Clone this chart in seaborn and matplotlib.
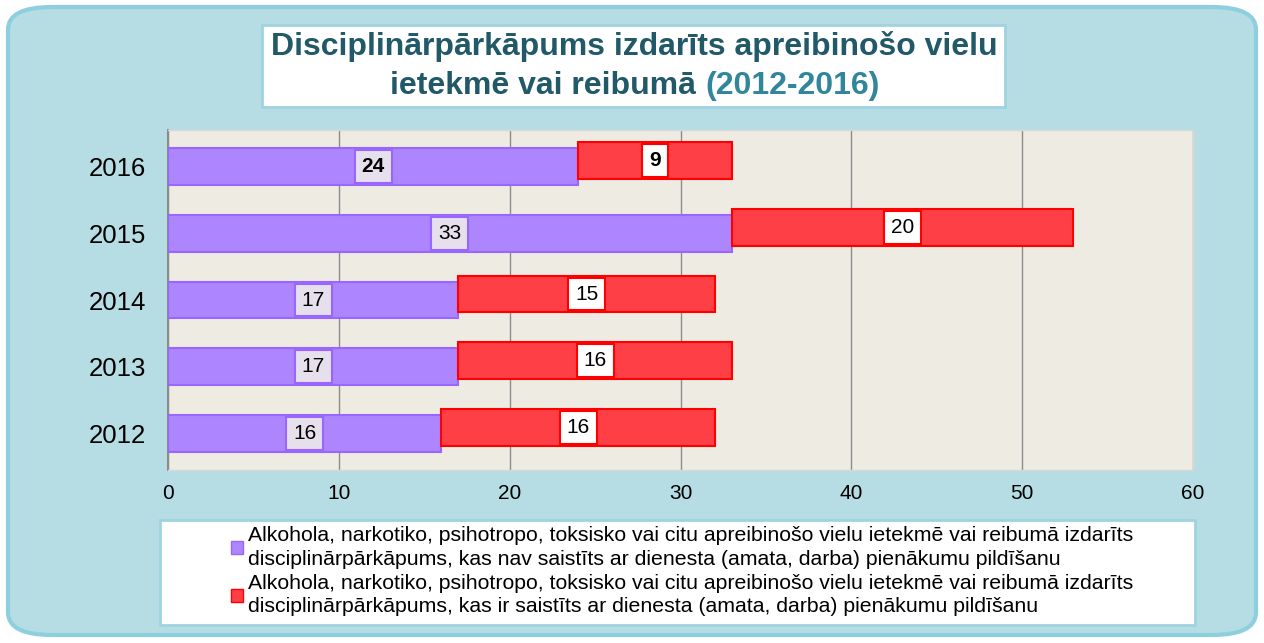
import matplotlib.pyplot as plt
import numpy as np
import pandas as pd
import seaborn as sns
from matplotlib.patches import FancyBboxPatch, Rectangle, Patch

# data
years = ["2016", "2015", "2014", "2013", "2012"]
not_duty = [24, 33, 17, 17, 16]
duty = [9, 20, 15, 16, 16]
bold_years = ["2016"]

label_not_duty = ("Alkohola, narkotiko, psihotropo, toksisko vai citu apreibinošo vielu ietekmē vai reibumā izdarīts\n"
                  "disciplinārpārkāpums, kas nav saistīts ar dienesta (amata, darba) pienākumu pildīšanu")
label_duty = ("Alkohola, narkotiko, psihotropo, toksisko vai citu apreibinošo vielu ietekmē vai reibumā izdarīts\n"
              "disciplinārpārkāpums, kas ir saistīts ar dienesta (amata, darba) pienākumu pildīšanu")

PURPLE = "#ad85ff"
PURPLE_EDGE = "#9966ff"
RED = "#ff3f46"
RED_EDGE = "#ff0000"


def main():
    sns.set_style("white")
    plt.rcParams["font.family"] = ["Liberation Sans", "DejaVu Sans"]
    plt.rcParams["text.color"] = "black"
    plt.rcParams["xtick.color"] = "black"
    plt.rcParams["ytick.color"] = "black"

    df = pd.DataFrame({"year": years, "not_duty": not_duty, "duty": duty})

    fig = plt.figure(figsize=(12.64, 6.43), dpi=100)
    W, H = 1264, 643

    # panel background
    fig.patches.append(FancyBboxPatch((8 / W, 8 / H), 1248 / W, 628 / H,
                                      boxstyle="round,pad=0,rounding_size=0.035",
                                      transform=fig.transFigure, fc="#b5dde3",
                                      ec="#8ecfdf", lw=3, zorder=0))
    # title box
    fig.patches.append(Rectangle((262 / W, 1 - 107 / H), 743 / W, 82 / H,
                                 transform=fig.transFigure, fc="white",
                                 ec="#9fd3e0", lw=2, zorder=1))
    # legend box
    fig.patches.append(Rectangle((160 / W, 1 - 625 / H), 1035 / W, 105 / H,
                                 transform=fig.transFigure, fc="white",
                                 ec="#9fd3e0", lw=2, zorder=1))

    ax = fig.add_axes([168 / W, 1 - 470 / H, 1025 / W, 340 / H])
    ax.set_zorder(5)
    ax.set_facecolor("#eeebe2")

    bar_h = 0.55
    red_shift = 0.09  # the second segment sits a little higher in the original

    sns.barplot(data=df, x="not_duty", y="year", order=years, color=PURPLE,
                saturation=1, width=bar_h, edgecolor=PURPLE_EDGE, linewidth=1.5,
                ax=ax, zorder=3)
    pos = np.arange(len(years))
    ax.barh(pos - red_shift, df["duty"], left=df["not_duty"], height=bar_h,
            color=RED, edgecolor=RED_EDGE, linewidth=1.5, zorder=3)

    for i, row in df.iterrows():
        weight = "bold" if row["year"] in bold_years else "normal"
        ax.text(row["not_duty"] / 2, i, str(row["not_duty"]), ha="center", va="center",
                fontsize=15, fontweight=weight, zorder=5,
                bbox=dict(boxstyle="square,pad=0.33", fc="#e6e0ec", ec=PURPLE_EDGE, lw=1.5))
        ax.text(row["not_duty"] + row["duty"] / 2, i - red_shift, str(row["duty"]),
                ha="center", va="center", fontsize=15, fontweight=weight, zorder=5,
                bbox=dict(boxstyle="square,pad=0.33", fc="white", ec=RED_EDGE, lw=1.5))

    ax.set_xlim(0, 60)
    ax.set_ylim(4.55, -0.55)
    ax.set_xticks(range(0, 61, 10))
    ax.xaxis.grid(True, color="#8c8c8c", lw=1)
    ax.set_axisbelow(True)
    ax.set_xlabel("")
    ax.set_ylabel("")
    ax.tick_params(axis="x", labelsize=15, length=0, pad=10)
    ax.tick_params(axis="y", labelsize=18.5, length=0, pad=16)
    for side in ["top", "right", "bottom"]:
        ax.spines[side].set_color("#d8d8d8")
        ax.spines[side].set_linewidth(1)
    ax.spines["left"].set_color("#8c8c8c")
    ax.spines["left"].set_linewidth(1.5)

    # title, two colours on second line
    title_color = "#215968"
    fig.text(634 / W, 1 - 47 / H, "Disciplinārpārkāpums izdarīts apreibinošo vielu",
             ha="center", va="center", fontsize=23, fontweight="bold", color=title_color)
    t2 = fig.text(705 / W, 1 - 86 / H, "ietekmē vai reibumā ", ha="right", va="center",
                  fontsize=23, fontweight="bold", color=title_color)
    ax.annotate("(2012-2016)", xy=(1, 0.5), xycoords=t2, ha="left", va="center",
                fontsize=23, fontweight="bold", color="#31869b", annotation_clip=False)

    handles = [Patch(fc=PURPLE, ec=PURPLE_EDGE), Patch(fc=RED, ec=RED_EDGE)]
    leg = fig.legend(handles, [label_not_duty, label_duty], loc="upper left",
                     bbox_to_anchor=(212 / W, 1 - 507 / H), frameon=False, fontsize=15.3,
                     handlelength=0.55, handleheight=0.55, handletextpad=0.25,
                     labelspacing=0.25)
    for t in leg.get_texts():
        t.set_linespacing(1.3)
        t.set_color("black")
    leg.set_zorder(6)

    fig.savefig("out.png", dpi=100)


if __name__ == "__main__":
    main()
